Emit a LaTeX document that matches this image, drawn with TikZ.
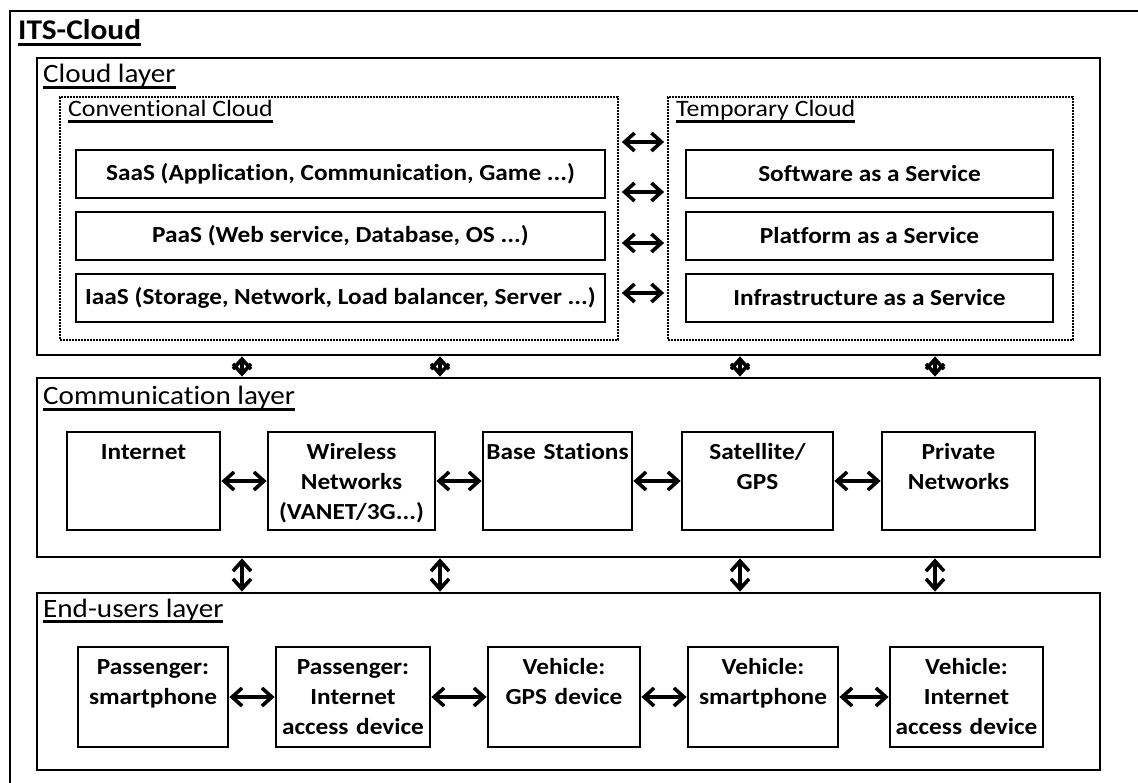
\documentclass[tikz,border=0pt]{standalone}
\usepackage{fontspec}
\setmainfont[FakeStretch=1.1,Ligatures=NoCommon]{Carlito}
\usetikzlibrary{arrows.meta,positioning}

\newsavebox\ulbox
\newcommand{\thickul}[1]{\sbox\ulbox{#1}\rlap{\rule[-6pt]{\wd\ulbox}{2.6pt}}\usebox\ulbox}

\begin{document}
\begin{tikzpicture}[
  x=1pt, y=-1pt,
  >={Straight Barb[length=10pt,width=18pt,line width=3.6pt]},
  biarrow/.style={<->, line width=3.2pt},
  layerframe/.style 2 args={draw, line width=2.8pt, minimum width=#1, minimum height=#2, inner sep=0pt},
  cloudframe/.style 2 args={draw, line width=1.8pt, dash pattern=on 1.6pt off 1.4pt, minimum width=#1, minimum height=#2, inner sep=0pt},
  headlabel/.style={anchor=base west, inner sep=0pt, font=\fontsize{26.5}{30}\selectfont},
  subheadlabel/.style={anchor=base west, inner sep=0pt, font=\fontsize{23.5}{28}\selectfont},
  svcbox/.style={draw, line width=2.8pt, minimum width=#1, minimum height=48pt, inner sep=0pt, font=\fontsize{23}{30}\selectfont\bfseries},
  devbox/.style 2 args={draw, line width=2.8pt, align=center, text width=#1, inner xsep=2pt, inner ysep=7pt,
    text height=20pt, text depth=#2, font=\fontsize{23}{30}\selectfont\bfseries}
]
  \useasboundingbox (0,0) rectangle (1138,783);

  % Outer frame
  \draw[line width=2.8pt] (10,11) rectangle (1170,810);
  \node[headlabel, font=\fontsize{28.5}{30}\selectfont\bfseries] (its) at (18,40) {\thickul{ITS-Cloud}};

  % Cloud layer
  \node[layerframe={1063pt}{297pt}] (cloudlayer) at (568.5,206.5) {};
  \node[headlabel] (cloudlabel) at (43,83) {\thickul{Cloud layer}};

  \node[cloudframe={558pt}{243pt}] (conv) at (339,218.5) {};
  \node[subheadlabel] (convlabel) at (68,117) {\thickul{Conventional Cloud}};
  \node[cloudframe={405pt}{243pt}] (temp) at (870.5,218.5) {};
  \node[subheadlabel] (templabel) at (676,117) {\thickul{Temporary Cloud}};

  \node[svcbox=529pt] (saas) at (340.5,174) {SaaS (Application, Communication, Game ...)};
  \node[svcbox=529pt] (paas) at (340.5,236) {PaaS (Web service, Database, OS ...)};
  \node[svcbox=529pt] (iaas) at (340.5,298) {IaaS (Storage, Network, Load balancer, Server ...)};

  \node[svcbox=367pt] (tsaas) at (869.5,174) {Software as a Service};
  \node[svcbox=367pt] (tpaas) at (869.5,236) {Platform as a Service};
  \node[svcbox=367pt] (tiaas) at (869.5,298) {Infrastructure as a Service};

  \foreach \yy in {142,192,243,293}
    \draw[biarrow, shorten <=3pt, shorten >=3pt] (conv.east |- 0,\yy) -- (temp.west |- 0,\yy);

  % Communication layer
  \node[layerframe={1063pt}{179pt}] (commlayer) at (568.5,467.5) {};
  \node[headlabel] (commlabel) at (43,405) {\thickul{Communication layer}};

  \node[devbox={149pt}{64pt}] (internet) at (143.5,481) {Internet};
  \node[devbox={163pt}{64pt}] (wireless) at (351.5,481) {Wireless\\Networks\\(VANET/3G...)};
  \node[devbox={145pt}{64pt}] (basest) at (557.5,481) {Base Stations};
  \node[devbox={147pt}{64pt}] (satgps) at (757.5,481) {Satellite/\\GPS};
  \node[devbox={149pt}{64pt}] (privnet) at (958.5,481) {Private\\Networks};

  \draw[biarrow] (internet.east) -- (wireless.west);
  \draw[biarrow] (wireless.east) -- (basest.west);
  \draw[biarrow] (basest.east) -- (satgps.west);
  \draw[biarrow] (satgps.east) -- (privnet.west);

  % End-users layer
  \node[layerframe={1063pt}{177pt}] (enduser) at (568.5,681.5) {};
  \node[headlabel] (eulabel) at (43,617) {\thickul{End-users layer}};

  \node[devbox={146pt}{66pt}] (psmart) at (153,697) {Passenger:\\smartphone};
  \node[devbox={150pt}{66pt}] (pinet) at (353,697) {Passenger:\\Internet\\access device};
  \node[devbox={148pt}{66pt}] (vgps) at (564,697) {Vehicle:\\GPS device};
  \node[devbox={146pt}{66pt}] (vsmart) at (763,697) {Vehicle:\\smartphone};
  \node[devbox={149pt}{66pt}] (vinet) at (966.5,697) {Vehicle:\\Internet\\access device};

  \draw[biarrow] (psmart.east) -- (pinet.west);
  \draw[biarrow] (pinet.east) -- (vgps.west);
  \draw[biarrow] (vgps.east) -- (vsmart.west);
  \draw[biarrow] (vsmart.east) -- (vinet.west);

  % Links between the layers
  \foreach \xx in {242,440,740,935} {
    \draw[biarrow] (cloudlayer.south -| \xx,0) -- (commlayer.north -| \xx,0);
    \draw[biarrow] (commlayer.south -| \xx,0) -- (enduser.north -| \xx,0);
  }
\end{tikzpicture}
\end{document}
